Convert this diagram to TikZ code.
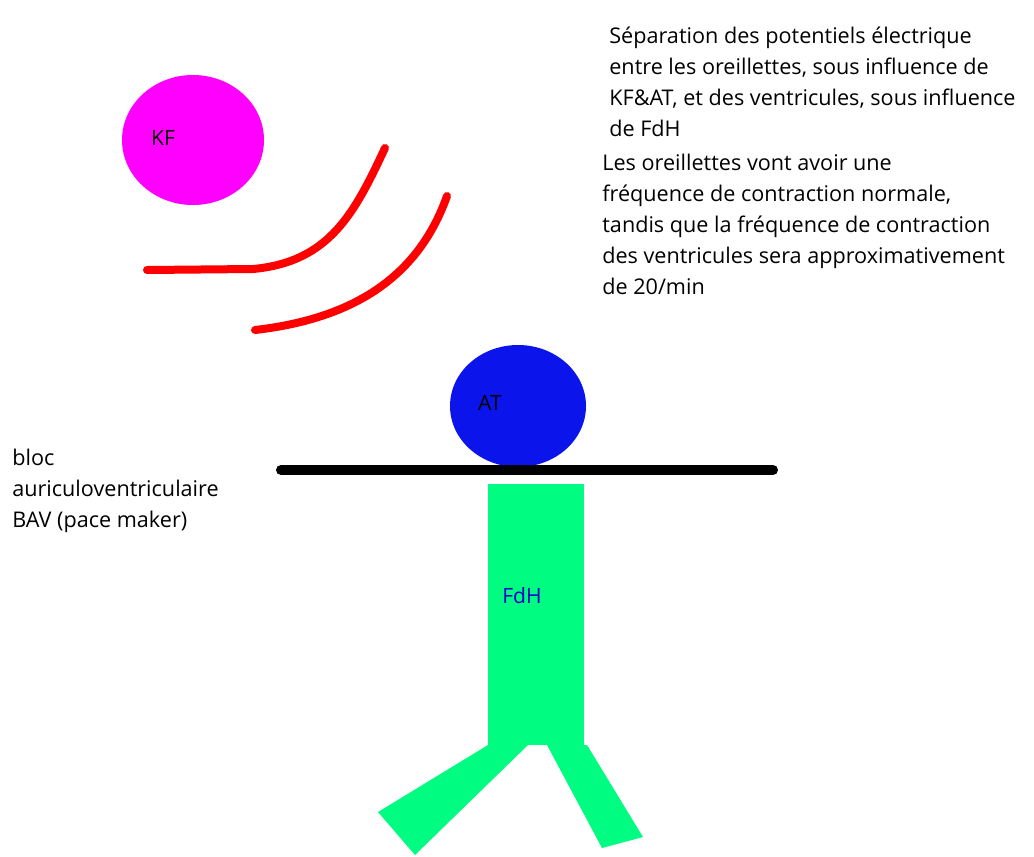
\documentclass[tikz,border=0pt]{standalone}
\usepackage{fontspec}
\setmainfont{Open Sans}
\usetikzlibrary{positioning}
\definecolor{kfpink}{RGB}{255,0,255}
\definecolor{atblue}{RGB}{10,20,235}
\definecolor{fdhgreen}{RGB}{0,252,128}
\definecolor{wavered}{RGB}{255,0,0}
\tikzset{
    wave/.style={draw=wavered, line width=0.16cm, line cap=round},
    note/.style={align=left, inner sep=0pt, anchor=north west,
                 font=\fontsize{12.3}{17.6}\selectfont},
    tag/.style={inner sep=0pt, font=\fontsize{12}{13}\selectfont},
}

\begin{document}
\begin{tikzpicture}[x=0.02cm, y=-0.02cm]
    \useasboundingbox (0,0) rectangle (1034,856);

    % KF (pink ball)
    \fill[kfpink] (193,140) ellipse [x radius=71, y radius=65];
    \node[tag] (kf) at (163,138) {KF};

    % Waves
    \draw[wave] (147,270) -- (253,269) .. controls (330,262) and (355,212) .. (385,148);
    \draw[wave] (255,330) .. controls (360,318) and (420,272) .. (447,196);

    % AT (blue ball)
    \fill[atblue] (518,406) ellipse [x radius=68, y radius=61];
    \node[tag] (at) at (490,403) {AT};

    % Block line
    \draw[line width=0.2cm, line cap=round] (281,470) -- (773,470);

    % FdH body and legs
    \fill[fdhgreen] (488,484) rectangle (584,745);
    \fill[fdhgreen] (488,745) -- (528,745) -- (415,855) -- (378,812) -- cycle;
    \fill[fdhgreen] (547,745) -- (587,745) -- (643,837) -- (602,848) -- cycle;
    \node[tag, text=blue!80!black] (fdh) at (522,596) {FdH};

    % Texts
    \node[note] (sep) at (609,27) {S\'eparation des potentiels \'electrique\\
        entre les oreillettes, sous influence de\\
        KF\&AT, et des ventricules, sous influence\\
        de FdH};
    \node[note] (freq) at (602,154) {Les oreillettes vont avoir une\\
        fr\'equence de contraction normale,\\
        tandis que la fr\'equence de contraction\\
        des ventricules sera approximativement\\
        de 20/min};
    \node[note] (bav) at (12,449) {bloc\\
        auriculoventriculaire\\
        BAV (pace maker)};

\end{tikzpicture}
\end{document}
